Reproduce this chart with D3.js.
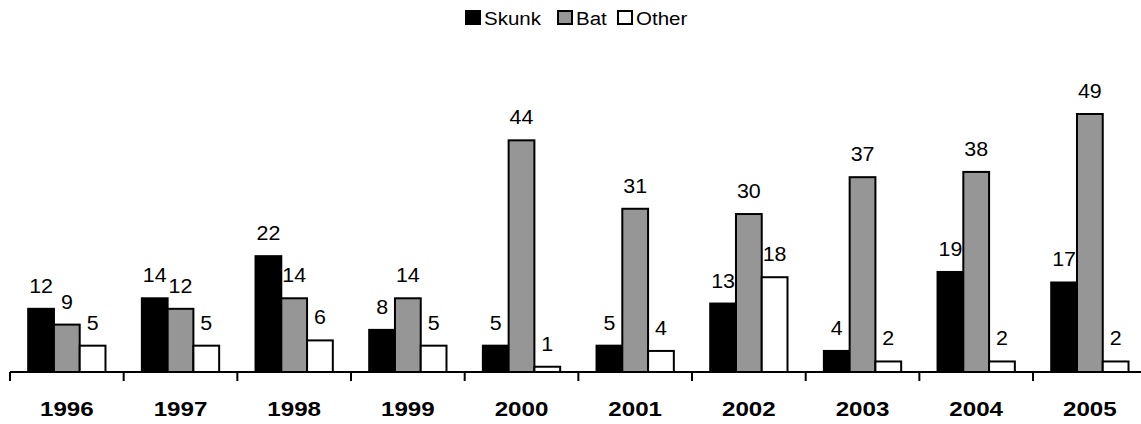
<!DOCTYPE html>
<html>
<head>
<meta charset="utf-8">
<script src="https://cdn.jsdelivr.net/npm/d3@7"></script>
<style>
  html, body { margin: 0; padding: 0; background: #fff; }
  svg { display: block; font-family: "Liberation Sans", Arial, sans-serif; }
</style>
</head>
<body>
<svg id="chart" width="1141" height="424"></svg>
<script>
const years = ["1996","1997","1998","1999","2000","2001","2002","2003","2004","2005"];
const seriesNames = ["Skunk","Bat","Other"];
const skunk = [12,14,22,8,5,5,13,4,19,17];
const bat = [9,12,14,14,44,31,30,37,38,49];
const other = [5,5,6,5,1,4,18,2,2,2];
const colors = ["#000000","#969696","#ffffff"];

const values = [skunk, bat, other];
const svg = d3.select("#chart");

const baseY = 372;
const y = d3.scaleLinear().domain([0, 49]).range([baseY, 114]);
const x = d3.scaleBand().domain(years).range([10, 1146.7]).paddingInner(0.32).paddingOuter(0.16);
const xs = d3.scaleBand().domain(seriesNames).range([0, x.bandwidth()]);

const data = [];
years.forEach((yr, i) => {
  seriesNames.forEach((s, j) => data.push({year: yr, series: s, value: values[j][i], j}));
});

// bars
svg.append("g").selectAll("rect").data(data).join("rect")
  .attr("x", d => x(d.year) + xs(d.series))
  .attr("y", d => y(d.value))
  .attr("width", xs.bandwidth())
  .attr("height", d => baseY - y(d.value))
  .attr("fill", d => colors[d.j])
  .attr("stroke", "#000")
  .attr("stroke-width", 2);

// value labels
svg.append("g").selectAll("text").data(data).join("text")
  .attr("transform", d => `translate(${x(d.year) + xs(d.series) + xs.bandwidth()/2},${y(d.value) - 16}) scale(1.07,1)`)
  .attr("text-anchor", "middle")
  .attr("font-size", 20)
  .attr("fill", "#000")
  .text(d => d.value);

// axis
const step = x.step();
const pad = (step - x.bandwidth()) / 2;
const bounds = years.map(yr => x(yr) - pad).concat([x(years[years.length-1]) + x.bandwidth() + pad]);
svg.append("line").attr("x1", 10).attr("x2", 1141).attr("y1", baseY).attr("y2", baseY)
  .attr("stroke", "#000").attr("stroke-width", 2);
svg.append("g").selectAll("line").data(bounds).join("line")
  .attr("x1", d => d).attr("x2", d => d).attr("y1", baseY).attr("y2", baseY + 9)
  .attr("stroke", "#000").attr("stroke-width", 2);

// year labels
svg.append("g").selectAll("text").data(years).join("text")
  .attr("transform", d => `translate(${x(d) + x.bandwidth()/2},416) scale(1.15,1)`)
  .attr("text-anchor", "middle")
  .attr("font-size", 21)
  .attr("font-weight", "bold")
  .attr("fill", "#000")
  .text(d => d);

// legend
const legendX = [465, 557, 617];
const lg = svg.append("g").selectAll("g").data(seriesNames).join("g")
  .attr("transform", (d, i) => `translate(${legendX[i]},0)`);
lg.append("rect").attr("x", 1).attr("y", 11).attr("width", 14).attr("height", 13)
  .attr("fill", (d, i) => colors[i]).attr("stroke", "#000").attr("stroke-width", 2);
lg.append("text").attr("transform", `translate(19,25) scale(1.08,1)`)
  .attr("font-size", 19).attr("fill", "#000").text(d => d);
</script>
</body>
</html>
